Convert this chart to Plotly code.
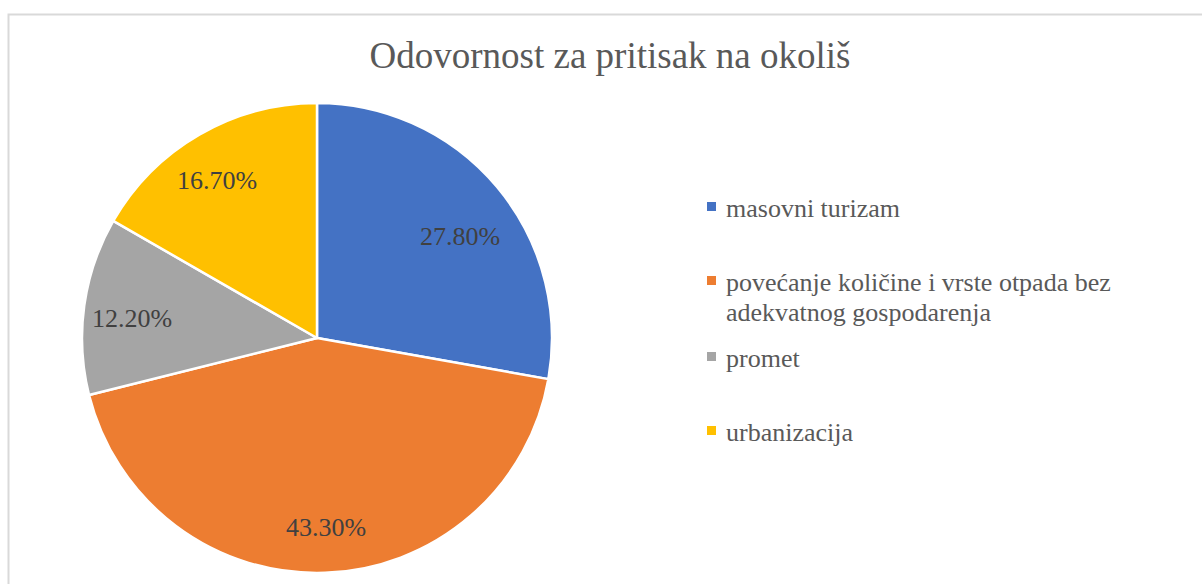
import math
import textwrap
import plotly.graph_objects as go

# Share of responsibility for environmental pressure
categories = [
    "masovni turizam",
    "povećanje količine i vrste otpada bez adekvatnog gospodarenja",
    "promet",
    "urbanizacija",
]
shares = [27.8, 43.3, 12.2, 16.7]
colors = ["#4472C4", "#ED7D31", "#A5A5A5", "#FFC000"]
title_text = "Odovornost za pritisak na okoliš"

W, H = 1202, 584
SERIF = "Liberation Serif"

# pie geometry in pixels
cx, cy, R = 317, 338, 235


def px_x(x):
    return x / W


def px_y(y):
    return 1 - y / H


fig = go.Figure(
    go.Pie(
        labels=categories,
        values=shares,
        sort=False,
        direction="clockwise",
        rotation=0,
        marker=dict(colors=colors, line=dict(color="white", width=2.5)),
        textinfo="none",
        hoverinfo="label+percent",
        showlegend=False,
        domain=dict(x=[px_x(cx - R), px_x(cx + R)], y=[px_y(cy + R), px_y(cy - R)]),
    )
)

annotations = []

# percentage labels inside the slices, placed near each slice's mid angle
# (radius as a fraction of R, small angular nudge in degrees)
label_r = [0.745, 0.807, 0.791, 0.795]
label_nudge = [4.6, -0.7, -2.0, -2.4]
total = sum(shares)
cum = 0.0
for v, fr, nd in zip(shares, label_r, label_nudge):
    mid = (cum + v / 2) / total * 2 * math.pi + math.radians(nd)
    cum += v
    lx = cx + fr * R * math.sin(mid)
    ly = cy - fr * R * math.cos(mid)
    annotations.append(dict(
        x=px_x(lx), y=px_y(ly), xref="paper", yref="paper",
        text=f"{v:.2f}%", showarrow=False,
        font=dict(family=SERIF, size=26, color="#404040"),
        xanchor="center", yanchor="middle",
    ))

# legend drawn as colour squares with text beside them
shapes = []
legend_x = 707
item_base = [216, 290, 366, 440]
line_gap = 30
for cat, col, base in zip(categories, colors, item_base):
    mcy = base - 9.5
    shapes.append(dict(
        type="rect", xref="paper", yref="paper",
        x0=px_x(legend_x), x1=px_x(legend_x + 9),
        y0=px_y(mcy + 4.5), y1=px_y(mcy - 4.5),
        fillcolor=col, line=dict(width=0),
    ))
    for i, line in enumerate(textwrap.wrap(cat, 37)):
        annotations.append(dict(
            x=px_x(legend_x + 17), y=px_y(base + i * line_gap - 8),
            xref="paper", yref="paper", text=line, showarrow=False,
            font=dict(family=SERIF, size=26, color="#595959"),
            xanchor="left", yanchor="middle",
        ))

# chart frame
shapes.append(dict(
    type="rect", xref="paper", yref="paper",
    x0=px_x(8.5), x1=1.05, y0=-0.05, y1=px_y(14.5),
    line=dict(color="#D9D9D9", width=2), fillcolor="rgba(0,0,0,0)",
    layer="below",
))

fig.update_layout(
    width=W, height=H,
    margin=dict(l=0, r=0, t=0, b=0),
    paper_bgcolor="white",
    plot_bgcolor="white",
    font=dict(family=SERIF),
    title=dict(
        text=title_text, x=px_x(610), xanchor="center",
        y=px_y(55.5), yanchor="middle", yref="container",
        font=dict(family=SERIF, size=37, color="#595959"),
    ),
    annotations=annotations,
    shapes=shapes,
)

fig.write_html("out.html")
